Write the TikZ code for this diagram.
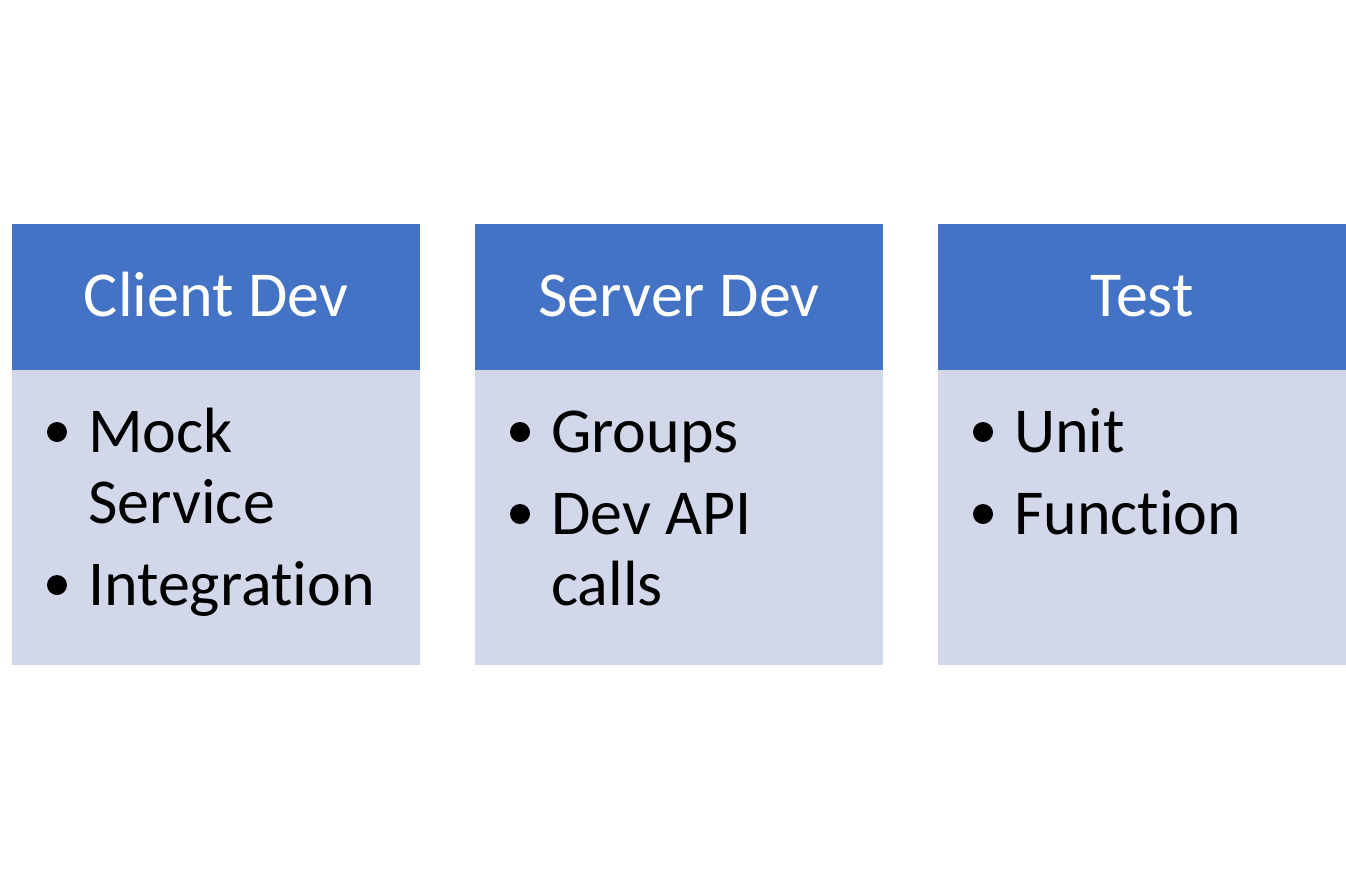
\documentclass[tikz,border=0pt]{standalone}
\usepackage{fontspec}
\setmainfont[Ligatures={NoCommon,NoContextual}]{Carlito}
\definecolor{hdrblue}{HTML}{4472C4}
\definecolor{bodyblue}{HTML}{D2D7EA}
\begin{document}
\begin{tikzpicture}[x=1pt,y=-1pt,
  hdr/.style={fill=hdrblue,draw=none,inner sep=0pt,anchor=north west,minimum width=408pt,minimum height=146pt},
  bodybox/.style={fill=bodyblue,draw=none,inner sep=0pt,anchor=north west,minimum width=408pt,minimum height=295pt},
  hdrtext/.style={text=white,font=\fontsize{64pt}{77pt}\selectfont,anchor=base,inner sep=0pt},
  itemtext/.style={text=black,font=\fontsize{64pt}{77pt}\selectfont,anchor=base west,inner sep=0pt},
  dot/.style={circle,fill=black,draw=none,inner sep=0pt,minimum size=20pt}]
\useasboundingbox (0,0) rectangle (1346,889);
\fill[white] (0,0) rectangle (1346,889);
% Client Dev
\node[hdr] (h1) at (12,224) {};
\node[bodybox] (b1) at (12,370) {};
\node[hdrtext] (t1) at (216,316) {Client Dev};
\node[dot] (d11) at (57,432) {};
\node[itemtext] (i11) at (88,452) {Mock};
\node[itemtext] (i12) at (88,523) {Service};
\node[dot] (d12) at (57,585) {};
\node[itemtext] (i13) at (88,605) {Integration};
% Server Dev
\node[hdr] (h2) at (475,224) {};
\node[bodybox] (b2) at (475,370) {};
\node[hdrtext] (t2) at (679,316) {Server Dev};
\node[dot] (d21) at (520,432) {};
\node[itemtext] (i21) at (551,452) {Groups};
\node[dot] (d22) at (520,514) {};
\node[itemtext] (i22) at (551,534) {Dev API};
\node[itemtext] (i23) at (551,605) {calls};
% Test
\node[hdr] (h3) at (938,224) {};
\node[bodybox] (b3) at (938,370) {};
\node[hdrtext] (t3) at (1142,316) {Test};
\node[dot] (d31) at (983,432) {};
\node[itemtext] (i31) at (1014,452) {Unit};
\node[dot] (d32) at (983,514) {};
\node[itemtext] (i32) at (1014,534) {Function};
\end{tikzpicture}
\end{document}
